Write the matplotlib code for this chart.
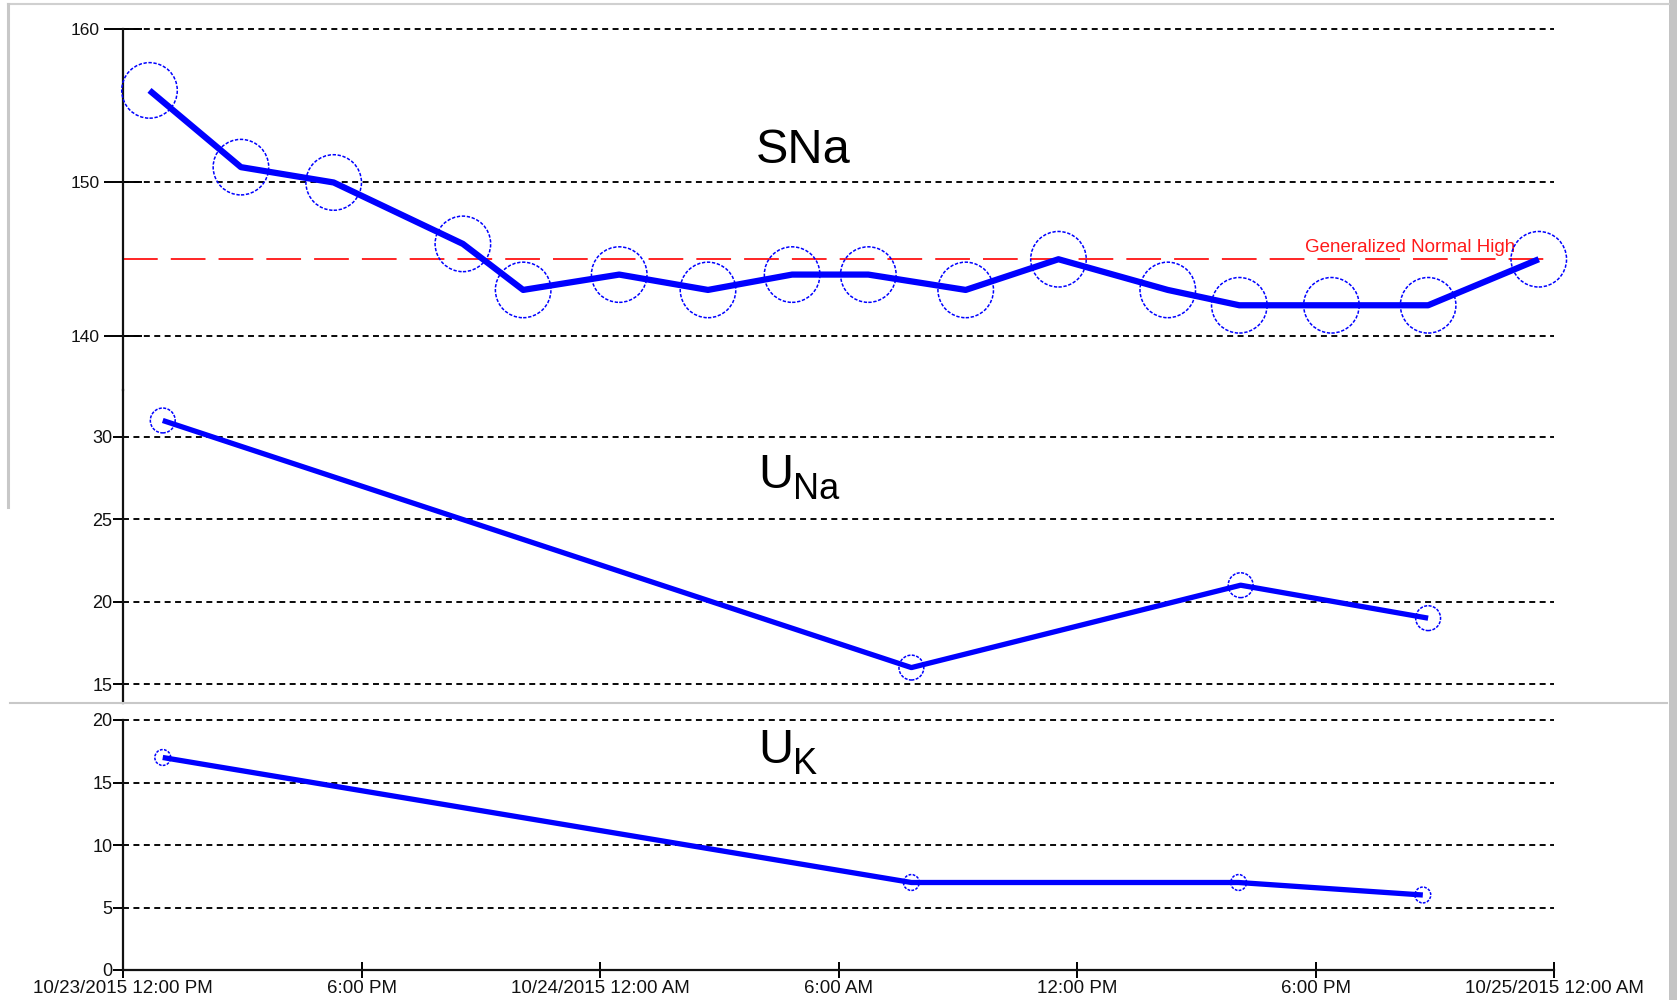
import matplotlib
matplotlib.use('Agg')
import matplotlib.pyplot as plt
from matplotlib.lines import Line2D
from matplotlib.patches import Rectangle
from datetime import datetime

plt.rcParams['font.family'] = ['Liberation Sans', 'DejaVu Sans']
plt.rcParams['lines.scale_dashes'] = False

# ---------------- data ----------------
sna_times = ["2015-10-23 12:40", "2015-10-23 14:58", "2015-10-23 17:18", "2015-10-23 20:33",
             "2015-10-23 22:04", "2015-10-24 00:29", "2015-10-24 02:43", "2015-10-24 04:50",
             "2015-10-24 06:45", "2015-10-24 09:12", "2015-10-24 11:32", "2015-10-24 14:17",
             "2015-10-24 16:05", "2015-10-24 18:24", "2015-10-24 20:50", "2015-10-24 23:37"]
sna_values = [156, 151, 150, 146, 143, 144, 143, 144, 144, 143, 145, 143, 142, 142, 142, 145]

una_times = ["2015-10-23 13:00", "2015-10-24 07:50", "2015-10-24 16:07", "2015-10-24 20:50"]
una_values = [31, 16, 21, 19]

uk_times = ["2015-10-23 13:00", "2015-10-24 07:50", "2015-10-24 16:04", "2015-10-24 20:42"]
uk_values = [17, 7, 7, 6]

normal_high = 145
normal_high_label = "Generalized Normal High"

sna_yticks = [140, 150, 160]
una_yticks = [15, 20, 25, 30]
uk_yticks = [0, 5, 10, 15, 20]

x_tick_times = ["2015-10-23 12:00", "2015-10-23 18:00", "2015-10-24 00:00", "2015-10-24 06:00",
                "2015-10-24 12:00", "2015-10-24 18:00", "2015-10-25 00:00"]
x_tick_labels = ["10/23/2015 12:00 PM", "6:00 PM", "10/24/2015 12:00 AM", "6:00 AM",
                 "12:00 PM", "6:00 PM", "10/25/2015 12:00 AM"]

def to_dt(lst):
    return [datetime.strptime(s, "%Y-%m-%d %H:%M") for s in lst]

x_start = datetime(2015, 10, 23, 12, 0)
x_end = datetime(2015, 10, 25, 0, 0)

# ---------------- figure ----------------
W, H = 1677, 1000
fig = plt.figure(figsize=(W / 100, H / 100), dpi=100)
fig.patch.set_facecolor('white')

AX_L, AX_R = 123, 1554

def px_axes(top, bottom):
    return fig.add_axes([AX_L / W, 1 - bottom / H, (AX_R - AX_L) / W, (bottom - top) / H])

BLUE = '#0000ff'
GRID_KW = dict(color='#000000', linewidth=1.35, linestyle=(0, (4.3, 3.2)))
LBL_COLOR = '#111111'

def style(ax, ylim, yticks, show_bottom=False):
    ax.set_xlim(x_start, x_end)
    ax.set_ylim(*ylim)
    ax.set_yticks(yticks)
    ax.set_yticklabels([str(v) for v in yticks])
    ax.set_facecolor('none')
    for s in ['top', 'right']:
        ax.spines[s].set_visible(False)
    ax.spines['left'].set_linewidth(1.6)
    ax.spines['left'].set_color('#111111')
    if show_bottom:
        ax.spines['bottom'].set_linewidth(1.6)
        ax.spines['bottom'].set_color('#111111')
    else:
        ax.spines['bottom'].set_visible(False)
    ax.yaxis.grid(True, **GRID_KW)
    ax.set_axisbelow(True)
    for g in ax.get_ygridlines():
        g.set_clip_on(False)
    for t in ax.get_yticklabels():
        t.set_color(LBL_COLOR)

# ---- top panel: SNa ----
ax1 = px_axes(29, 390)
style(ax1, (136.48, 160), sna_yticks)
ax1.tick_params(axis='y', direction='inout', length=28, width=1.4, pad=2.5, labelsize=12.5)
ax1.set_xticks([])
t1 = to_dt(sna_times)
ax1.axhline(normal_high, color='#ff0000', linewidth=1.2, linestyle=(0, (25, 9.4)), zorder=2)
ax1.annotate(normal_high_label, xy=(0.9727, normal_high), xycoords=('axes fraction', 'data'),
             xytext=(0, 5), textcoords='offset points', ha='right', va='baseline',
             color='#ff1a1a', fontsize=13.5)
ax1.plot(t1, sna_values, color=BLUE, linewidth=4.5, solid_capstyle='butt', zorder=4)
ax1.scatter(t1, sna_values, s=1600, facecolors='none', edgecolors=BLUE, linewidths=1.1,
            linestyles=(0, (2.4, 1.2)), zorder=5, clip_on=False)

# ---- middle panel: UNa ----
ax2 = px_axes(390, 703)
style(ax2, (13.85, 32.85), una_yticks)
ax2.tick_params(axis='y', direction='out', length=7, width=1.4, pad=0.5, labelsize=13)
ax2.set_xticks([])
t2 = to_dt(una_times)
ax2.plot(t2, una_values, color=BLUE, linewidth=3.8, solid_capstyle='butt', zorder=4)
ax2.scatter(t2, una_values, s=320, facecolors='none', edgecolors=BLUE, linewidths=1.1,
            linestyles=(0, (2.2, 1.0)), zorder=5, clip_on=False)

# ---- bottom panel: UK ----
ax3 = px_axes(720, 970)
style(ax3, (0, 20), uk_yticks, show_bottom=True)
ax3.tick_params(axis='y', direction='out', length=7, width=1.4, pad=0.5, labelsize=13)
ax3.set_xticks(to_dt(x_tick_times))
ax3.set_xticklabels(x_tick_labels)
ax3.tick_params(axis='x', direction='inout', length=12, width=1.4, pad=1, labelsize=13.5,
                labelcolor=LBL_COLOR)
t3 = to_dt(uk_times)
ax3.plot(t3, uk_values, color=BLUE, linewidth=3.8, solid_capstyle='butt', zorder=4)
ax3.scatter(t3, uk_values, s=130, facecolors='none', edgecolors=BLUE, linewidths=1.1,
            linestyles=(0, (2.0, 1.0)), zorder=5, clip_on=False)

# ---- panel titles ----
fig.text(803 / W, 1 - 163 / H, "SNa", ha='center', va='baseline', fontsize=35, color='black')
fig.text(758 / W, 1 - 488 / H, "U", ha='left', va='baseline', fontsize=35, color='black')
fig.text(793 / W, 1 - 499 / H, "Na", ha='left', va='baseline', fontsize=26, color='black')
fig.text(758 / W, 1 - 763 / H, "U", ha='left', va='baseline', fontsize=35, color='black')
fig.text(793 / W, 1 - 774 / H, "K", ha='left', va='baseline', fontsize=26, color='black')

# ---- screenshot frame decorations ----
def fx(x):
    return x / W

def fy(y):
    return 1 - y / H

fig.add_artist(Rectangle((fx(1669), 0), fx(8), 1, transform=fig.transFigure,
                         facecolor='#c4c4c4', edgecolor='none'))
fig.add_artist(Line2D([fx(8), fx(1669)], [fy(4), fy(4)], transform=fig.transFigure,
                      color='#d0d0d0', linewidth=1.5))
fig.add_artist(Line2D([fx(8), fx(8)], [fy(4), fy(507)], transform=fig.transFigure,
                      color='#c8c8c8', linewidth=2.2))
fig.add_artist(Line2D([fx(10), fx(1667)], [fy(703), fy(703)], transform=fig.transFigure,
                      color='#c8c8c8', linewidth=1.5))

fig.savefig("out.png", dpi=100, facecolor='white')
